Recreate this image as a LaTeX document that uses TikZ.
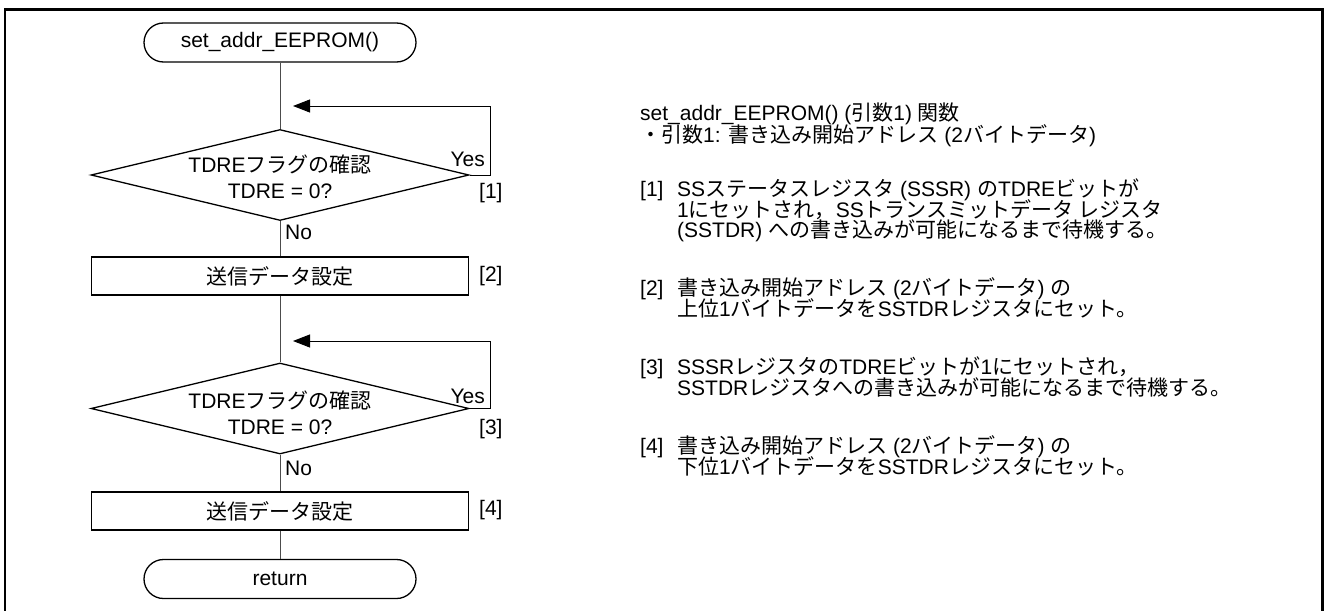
\documentclass[tikz,border=0pt]{standalone}
\usepackage{fontspec}
\setmainfont{Liberation Sans}
\newfontfamily\jp{Noto Sans CJK JP}
\usetikzlibrary{shapes.geometric,shapes.misc,arrows.meta}
\newcommand\J[1]{{\jp #1}}
\begin{document}
\begin{tikzpicture}[x=1pt,y=-1pt,
  txt/.style={font=\fontsize{21}{25}\selectfont, inner sep=0pt},
  shapeline/.style={draw=black, line width=1.3pt},
  conn/.style={draw=black!70, line width=1pt},
  loopline/.style={draw=black, line width=1pt},
  term/.style={shapeline, rounded rectangle, minimum width=272pt, minimum height=39pt, inner sep=0pt, txt},
  proc/.style={shapeline, rectangle, minimum width=377pt, minimum height=38pt, inner sep=0pt, txt},
  dec/.style={shapeline, diamond, minimum width=378pt, minimum height=91pt, inner sep=0pt, shape aspect=4.15},
  tip/.style={-{Triangle[length=17pt,width=13pt]}},
  desc/.style={txt, anchor=base west},
]
\useasboundingbox (0,0) rectangle (1324,610);
\clip (0,0) rectangle (1324,610);
% frame
\draw[line width=2.2pt] (5,614) -- (5,9.5) -- (1322.5,9.5) -- (1322.5,614);

% flowchart nodes
\node[term] (start) at (280,42.5) {set\_addr\_EEPROM()};
\node[dec] (d1) at (280,175) {};
\node[proc] (b1) at (280,276) {\J{送信データ設定}};
\node[dec] (d2) at (280,408.5) {};
\node[proc] (b2) at (280,511) {\J{送信データ設定}};
\node[term] (ret) at (280,579) {return};

% diamond texts
\node[txt, anchor=base] (d1t1) at (280,172.5) {TDRE\J{フラグの確認}};
\node[txt, anchor=base] (d1t2) at (280,198.5) {TDRE = 0?};
\node[txt, anchor=base] (d2t1) at (280,408.5) {TDRE\J{フラグの確認}};
\node[txt, anchor=base] (d2t2) at (280,434) {TDRE = 0?};

% connectors
\draw[conn] (start.south) -- (d1.north);
\draw[conn] (d1.south) -- (b1.north);
\draw[conn] (b1.south) -- (d2.north);
\draw[conn] (d2.south) -- (b2.north);
\draw[conn] (b2.south) -- (ret.north);

% loops
\coordinate (l1a) at (490,175);
\coordinate (l1b) at (490,106);
\coordinate (l1c) at (293,106);
\draw[loopline, tip] (d1.east) -- (l1a) -- (l1b) -- (l1c);
\coordinate (l2a) at (490,408.5);
\coordinate (l2b) at (490,341);
\coordinate (l2c) at (293,341);
\draw[loopline, tip] (d2.east) -- (l2a) -- (l2b) -- (l2c);

% labels
\node[txt, anchor=base east] (yes1) at (485,166) {Yes};
\node[txt, anchor=base east] (yes2) at (485,403.5) {Yes};
\node[txt, anchor=base west] (no1) at (285,239) {No};
\node[txt, anchor=base west] (no2) at (285,475) {No};
\node[txt, anchor=base west] (s1) at (479,198) {[1]};
\node[txt, anchor=base west] (s2) at (479,281.5) {[2]};
\node[txt, anchor=base west] (s3) at (479,434) {[3]};
\node[txt, anchor=base west] (s4) at (479,515.5) {[4]};

% description
\node[desc] (h1) at (640,120.5) {set\_addr\_EEPROM() (\J{引数}1) \J{関数}};
\node[desc] (h2) at (640,142) {\J{・引数}1: \J{書き込み開始アドレス} (2\J{バイトデータ})};

\node[desc] (p1n) at (640,196.5) {[1]};
\node[desc] (p1a) at (677,196.5) {SS\J{ステータスレジスタ} (SSSR) \J{の}TDRE\J{ビットが}};
\node[desc] (p1b) at (677,217) {1\J{にセットされ，}SS\J{トランスミットデータ レジスタ}};
\node[desc] (p1c) at (677,237.5) {(SSTDR) \J{への書き込みが可能になるまで待機する。}};

\node[desc] (p2n) at (640,295.5) {[2]};
\node[desc] (p2a) at (677,295.5) {\J{書き込み開始アドレス} (2\J{バイトデータ}) \J{の}};
\node[desc] (p2b) at (677,316) {\J{上位}1\J{バイトデータを}SSTDR\J{レジスタにセット。}};

\node[desc] (p3n) at (640,374.5) {[3]};
\node[desc] (p3a) at (677,374.5) {SSSR\J{レジスタの}TDRE\J{ビットが}1\J{にセットされ，}};
\node[desc] (p3b) at (677,395) {SSTDR\J{レジスタへの書き込みが可能になるまで待機する。}};

\node[desc] (p4n) at (640,453.5) {[4]};
\node[desc] (p4a) at (677,453.5) {\J{書き込み開始アドレス} (2\J{バイトデータ}) \J{の}};
\node[desc] (p4b) at (677,474) {\J{下位}1\J{バイトデータを}SSTDR\J{レジスタにセット。}};
\end{tikzpicture}
\end{document}
